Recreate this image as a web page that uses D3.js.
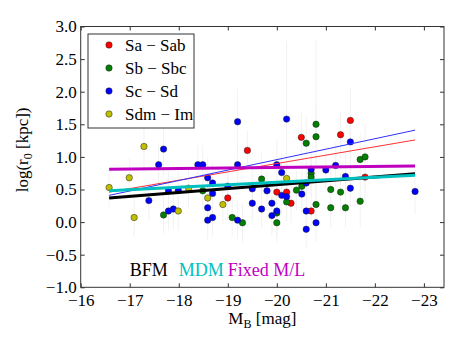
<!DOCTYPE html>
<html>
<head>
<meta charset="utf-8">
<script src="https://cdn.jsdelivr.net/npm/d3@7"></script>
<style>
  body { margin: 0; background: #fff; }
  svg, svg text { font-family: "Liberation Serif", "Times New Roman", Times, "DejaVu Serif", serif !important; }
</style>
</head>
<body>
<div id="grafico"></div>
<script>
// Datos: [M_B, log(r0), error]
const saSab = [
  [-21.50, 1.56, 0.5], [-20.50, 1.30, 0.4], [-21.30, 1.34, 0.35], [-19.40, 1.10, 0.3],
  [-20.00, 0.46, 0.3], [-20.20, 0.46, 0.25], [-20.29, 0.29, 0.3], [-19.00, 0.37, 0.35],
  [-20.70, 0.17, 0.3], [-21.80, 0.69, 0.4]
];
const sbSbc = [
  [-20.80, 1.50, 1.3], [-20.80, 1.31, 0.5], [-20.60, 1.21, 0.4], [-21.70, 0.96, 0.4],
  [-21.80, 1.00, 0.5], [-20.70, 0.75, 0.3], [-20.70, 0.69, 0.3], [-19.69, 0.66, 0.4],
  [-20.51, 0.55, 0.3], [-20.40, 0.49, 0.3], [-18.49, 0.48, 0.3], [-21.10, 0.50, 0.4],
  [-21.30, 0.46, 0.3], [-20.20, 0.31, 0.3], [-20.80, 0.27, 0.35], [-21.70, 0.32, 0.4],
  [-21.10, 0.22, 0.3], [-21.40, 0.22, 0.3], [-20.00, 0.14, 0.35], [-17.69, 0.11, 0.3],
  [-19.09, 0.07, 0.3], [-19.30, -0.01, 0.3], [-20.00, -0.01, 0.3]
];
const scSd = [
  [-19.20, 1.54, 0.5], [-20.20, 1.58, 1.2], [-21.50, 1.23, 0.4], [-17.69, 1.12, 0.4],
  [-17.59, 0.88, 0.3], [-18.39, 0.88, 0.3], [-18.49, 0.88, 0.3], [-19.20, 0.88, 0.35],
  [-20.00, 0.88, 0.4], [-21.20, 0.87, 0.35], [-20.70, 0.81, 0.3], [-21.00, 0.80, 0.3],
  [-20.10, 0.76, 0.3], [-21.40, 0.70, 0.35], [-18.59, 0.68, 0.3], [-18.69, 0.60, 0.3],
  [-19.00, 0.55, 0.3], [-20.60, 0.60, 0.3], [-17.79, 0.48, 0.3], [-17.99, 0.49, 0.3],
  [-19.50, 0.51, 0.35], [-19.80, 0.48, 0.3], [-21.50, 0.52, 0.3], [-22.82, 0.47, 0.35],
  [-18.69, 0.44, 0.3], [-20.10, 0.41, 0.3], [-20.20, 0.39, 0.3], [-20.51, 0.43, 0.3],
  [-17.39, 0.33, 0.3], [-19.50, 0.29, 0.3], [-19.90, 0.29, 0.3], [-18.59, 0.22, 0.3],
  [-17.89, 0.20, 0.3], [-17.79, 0.17, 0.3], [-19.69, 0.20, 0.3], [-20.00, 0.17, 0.3],
  [-20.60, 0.17, 0.3], [-19.90, 0.10, 0.3], [-18.69, 0.07, 0.3], [-18.59, 0.03, 0.3],
  [-19.20, 0.03, 0.3], [-20.80, -0.01, 0.3], [-20.60, -0.11, 0.3]
];
const sdmIm = [
  [-17.29, 1.16, 0.4], [-16.99, 0.68, 0.3], [-16.58, 0.53, 0.3], [-18.20, 0.52, 0.3],
  [-20.20, 0.67, 0.3], [-18.59, 0.37, 0.3], [-18.90, 0.27, 0.3], [-17.99, 0.17, 0.3],
  [-17.09, 0.07, 0.3]
];

// Ajustes (extremos en M_B y log r0)
const fitX = [-16.58, -22.82];
const fitBFM = [0.37, 0.74];
const fitMDM = [0.48, 0.72];
const fitFixed = [0.81, 0.86];
const fitSa = [0.46, 1.26];
const fitSc = [0.41, 1.41];

const xTicks = [-16, -17, -18, -19, -20, -21, -22, -23];
const yTicks = [-1.0, -0.5, 0.0, 0.5, 1.0, 1.5, 2.0, 2.5, 3.0];

const series = [
  { name: "Sa \u2212 Sab", data: saSab, color: "#ff0000" },
  { name: "Sb \u2212 Sbc", data: sbSbc, color: "#007f00" },
  { name: "Sc \u2212 Sd", data: scSd, color: "#0000ff" },
  { name: "Sdm \u2212 Im", data: sdmIm, color: "#bfbf00" }
];

const W = 463, H = 348;
const margin = { top: 26.5, right: 19, bottom: 60.7, left: 80.7 };
const width = W - margin.left - margin.right;
const height = H - margin.top - margin.bottom;

const svg = d3.select("#grafico").append("svg")
    .attr("width", W)
    .attr("height", H)
  .append("g")
    .attr("transform", `translate(${margin.left},${margin.top})`);

const x = d3.scaleLinear().domain([-16, -23.41]).range([0, width]);
const y = d3.scaleLinear().domain([-1, 3]).range([height, 0]);

const fmtX = d => d3.format(".0f")(d).replace("-", "\u2212");
const fmtY = d => d3.format(".1f")(d).replace("-", "\u2212");

// Barras de error
const allPts = series.flatMap(s => s.data);
svg.append("g").selectAll("line")
    .data(allPts)
    .enter().append("line")
    .attr("x1", d => x(d[0])).attr("x2", d => x(d[0]))
    .attr("y1", d => y(d[1] - d[2])).attr("y2", d => y(d[1] + d[2]))
    .attr("stroke", "#f2f2f2")
    .attr("stroke-width", 1);

// Puntos
series.forEach(s => {
    svg.append("g").selectAll("circle")
        .data(s.data)
        .enter().append("circle")
        .attr("cx", d => x(d[0]))
        .attr("cy", d => y(d[1]))
        .attr("r", 3.2)
        .attr("fill", s.color)
        .attr("stroke", "#222")
        .attr("stroke-width", 0.5);
});

// Rectas de ajuste
const line = d3.line().x(d => x(d[0])).y(d => y(d[1]));
const fits = [
  { ys: fitSa, color: "#ff3030", w: 1 },
  { ys: fitSc, color: "#3030ff", w: 1 },
  { ys: fitFixed, color: "#bf00bf", w: 3 },
  { ys: fitBFM, color: "#000000", w: 3 },
  { ys: fitMDM, color: "#00bfbf", w: 3 }
];
fits.forEach(f => {
    svg.append("path")
        .datum(fitX.map((v, i) => [v, f.ys[i]]))
        .attr("d", line)
        .attr("fill", "none")
        .attr("stroke", f.color)
        .attr("stroke-width", f.w);
});

// Ejes
function styleAxis(g) {
    g.select(".domain").remove();
    g.selectAll(".tick line").attr("stroke", "#333");
    g.selectAll("text").attr("font-size", 17).attr("fill", "#000");
}
svg.append("g")
    .attr("transform", `translate(0,${height})`)
    .call(d3.axisBottom(x).tickValues(xTicks).tickFormat(fmtX).tickSize(-4).tickPadding(7))
    .call(styleAxis);
svg.append("g")
    .call(d3.axisTop(x).tickValues(xTicks).tickFormat("").tickSize(-4))
    .call(styleAxis);
svg.append("g")
    .call(d3.axisLeft(y).tickValues(yTicks).tickFormat(fmtY).tickSize(-4).tickPadding(4))
    .call(styleAxis);
svg.append("g")
    .attr("transform", `translate(${width},0)`)
    .call(d3.axisRight(y).tickValues(yTicks).tickFormat("").tickSize(-4))
    .call(styleAxis);

svg.append("rect")
    .attr("width", width).attr("height", height)
    .attr("fill", "none").attr("stroke", "#333").attr("stroke-width", 1);

// Leyenda
const legend = svg.append("g").attr("transform", "translate(7.3,7.5)");
legend.append("rect")
    .attr("width", 106).attr("height", 94)
    .attr("fill", "#fff").attr("stroke", "#333").attr("stroke-width", 1);
series.forEach((s, i) => {
    const gy = 11 + i * 23;
    legend.append("circle")
        .attr("cx", 21).attr("cy", gy).attr("r", 3.2)
        .attr("fill", s.color).attr("stroke", "#222").attr("stroke-width", 0.5);
    legend.append("text")
        .attr("x", 37).attr("y", gy).attr("dy", "0.35em")
        .attr("font-size", 17)
        .text(s.name);
});

// Etiquetas de los modelos
const tags = [
  { t: "BFM", mb: -17, c: "#000000" },
  { t: "MDM", mb: -18, c: "#00bfbf" },
  { t: "Fixed M/L", mb: -19, c: "#bf00bf" }
];
svg.selectAll(".tag")
    .data(tags)
    .enter().append("text")
    .attr("class", "tag")
    .attr("x", d => x(d.mb))
    .attr("y", y(-0.83))
    .attr("fill", d => d.c)
    .attr("font-size", 18)
    .text(d => d.t);

// Títulos de los ejes
const xl = svg.append("text")
    .attr("x", width / 2).attr("y", height + 37)
    .attr("text-anchor", "middle")
    .attr("font-size", 17);
xl.append("tspan").text("M");
xl.append("tspan").attr("dy", 4).attr("font-size", 12).text("B");
xl.append("tspan").attr("dy", -4).text(" [mag]");

const yl = svg.append("text")
    .attr("transform", `translate(${-53},${height / 2 - 7}) rotate(-90)`)
    .attr("text-anchor", "middle")
    .attr("font-size", 17);
yl.append("tspan").text("log(r");
yl.append("tspan").attr("dy", 4).attr("font-size", 12).text("0");
yl.append("tspan").attr("dy", -4).text(" [kpc])");
</script>
</body>
</html>
